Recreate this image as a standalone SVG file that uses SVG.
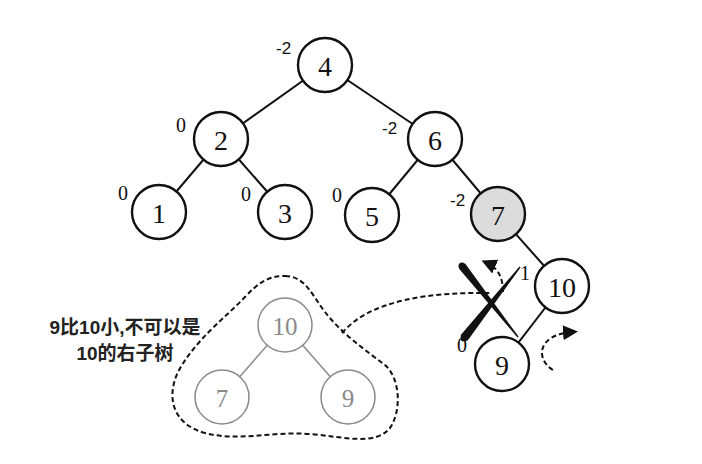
<svg xmlns="http://www.w3.org/2000/svg" width="702" height="464" viewBox="0 0 702 464">
<defs>
<style>
.edge{stroke:#111;stroke-width:2;fill:none}
.node circle{fill:#fff;stroke:#111;stroke-width:2.4}
.node .v{font-family:"Liberation Serif",serif;font-size:28px;fill:#111;text-anchor:middle;dominant-baseline:central}
.bf{font-family:"Liberation Sans",sans-serif;font-size:17px;fill:#111}
.bs{font-family:"Liberation Serif",serif;font-size:20px;fill:#111}
.gnode circle{fill:#fff;stroke:#8a8a8a;stroke-width:1.5}
.gnode text{font-family:"Liberation Serif",serif;font-size:25px;fill:#8a8a8a;text-anchor:middle;dominant-baseline:central}
.gedge{stroke:#8a8a8a;stroke-width:1.5}
.dash{stroke:#111;stroke-width:2;fill:none;stroke-dasharray:5 3}
.note{font-family:"Liberation Sans","Noto Sans CJK SC",sans-serif;font-size:19px;font-weight:bold;fill:#222;text-anchor:middle}
</style>
<marker id="ah2" viewBox="0 0 10 10" refX="6" refY="5" markerWidth="15" markerHeight="15" orient="auto" markerUnits="userSpaceOnUse">
<path d="M0,0 L10,5 L0,10 Z" fill="#111"/>
</marker>
</defs>
<rect width="702" height="464" fill="#fff"/>
<g id="connectors">
<line class="edge" x1="325" y1="65" x2="221" y2="139"/>
<line class="edge" x1="325" y1="65" x2="435" y2="139"/>
<line class="edge" x1="221" y1="139" x2="159" y2="212"/>
<line class="edge" x1="221" y1="139" x2="285" y2="212"/>
<line class="edge" x1="435" y1="139" x2="372" y2="215"/>
<line class="edge" x1="435" y1="139" x2="498" y2="214"/>
<line class="edge" x1="498" y1="214" x2="562" y2="286"/>
<line class="edge" x1="562" y1="286" x2="502" y2="364"/>
<path class="dash" d="M342,333 C370,300 430,292 490,293"/>
<path class="dash" d="M503,292 C503,275 496,267 487,263" marker-end="url(#ah2)"/>
<path class="dash" d="M553,370 C536,360 536,335 572,332" marker-end="url(#ah2)"/>
</g>
<g id="cross">
<polygon points="458.9,268.5 465.1,263.5 518.55,336.57 517.45,337.43" fill="#111"/>
<circle cx="462" cy="266" r="3.5" fill="#111"/>
<polygon points="520.55,267.43 519.45,266.57 460.5,335.2 467.5,340.8" fill="#111"/>
<circle cx="464" cy="338" r="3.5" fill="#111"/>
</g>
<g id="n4" class="node"><circle cx="325" cy="65" r="27"/><text class="v" x="325" y="66">4</text><text class="bf" x="276" y="54">-2</text></g>
<g id="n2" class="node"><circle cx="221" cy="139" r="27"/><text class="v" x="221" y="140">2</text><text class="bs" x="176" y="132">0</text></g>
<g id="n6" class="node"><circle cx="435" cy="139" r="27"/><text class="v" x="435" y="140">6</text><text class="bf" x="382" y="134">-2</text></g>
<g id="n1" class="node"><circle cx="159" cy="212" r="27"/><text class="v" x="159" y="213">1</text><text class="bs" x="118" y="200">0</text></g>
<g id="n3" class="node"><circle cx="285" cy="212" r="27"/><text class="v" x="285" y="213">3</text><text class="bs" x="241" y="201">0</text></g>
<g id="n5" class="node"><circle cx="372" cy="215" r="27"/><text class="v" x="372" y="216">5</text><text class="bs" x="332" y="202">0</text></g>
<g id="n7" class="node"><circle cx="498" cy="214" r="27" style="fill:#dcdcdc"/><text class="v" x="498" y="215">7</text><text class="bf" x="450" y="206">-2</text></g>
<g id="n10" class="node"><circle cx="562" cy="286" r="27"/><text class="v" x="562" y="287">10</text><text class="bs" x="520" y="280">1</text></g>
<g id="n9" class="node"><circle cx="502" cy="364" r="27"/><text class="v" x="502" y="365">9</text><text class="bs" x="457" y="352">0</text></g>
<g id="blob">
<path class="dash" d="M285,276 C305,276 312,295 325,312 C340,332 365,350 385,365 C400,378 402,410 390,428 C375,446 345,437 310,434 C270,431 240,442 205,433 C175,425 165,400 178,372 C195,340 225,318 245,297 C258,283 268,276 285,276 Z"/>
</g>
<g id="inner-edges">
<line class="gedge" x1="285" y1="325" x2="222" y2="397"/>
<line class="gedge" x1="285" y1="325" x2="348" y2="397"/>
</g>
<g id="g10" class="gnode"><circle cx="285" cy="325" r="27"/><text x="285" y="326">10</text></g>
<g id="g7" class="gnode"><circle cx="222" cy="397" r="27"/><text x="222" y="398">7</text></g>
<g id="g9" class="gnode"><circle cx="348" cy="397" r="27"/><text x="348" y="398">9</text></g>
<g id="note">
<text class="note" x="125" y="334">9比10小,不可以是</text>
<text class="note" x="125" y="360">10的右子树</text>
</g>
</svg>
